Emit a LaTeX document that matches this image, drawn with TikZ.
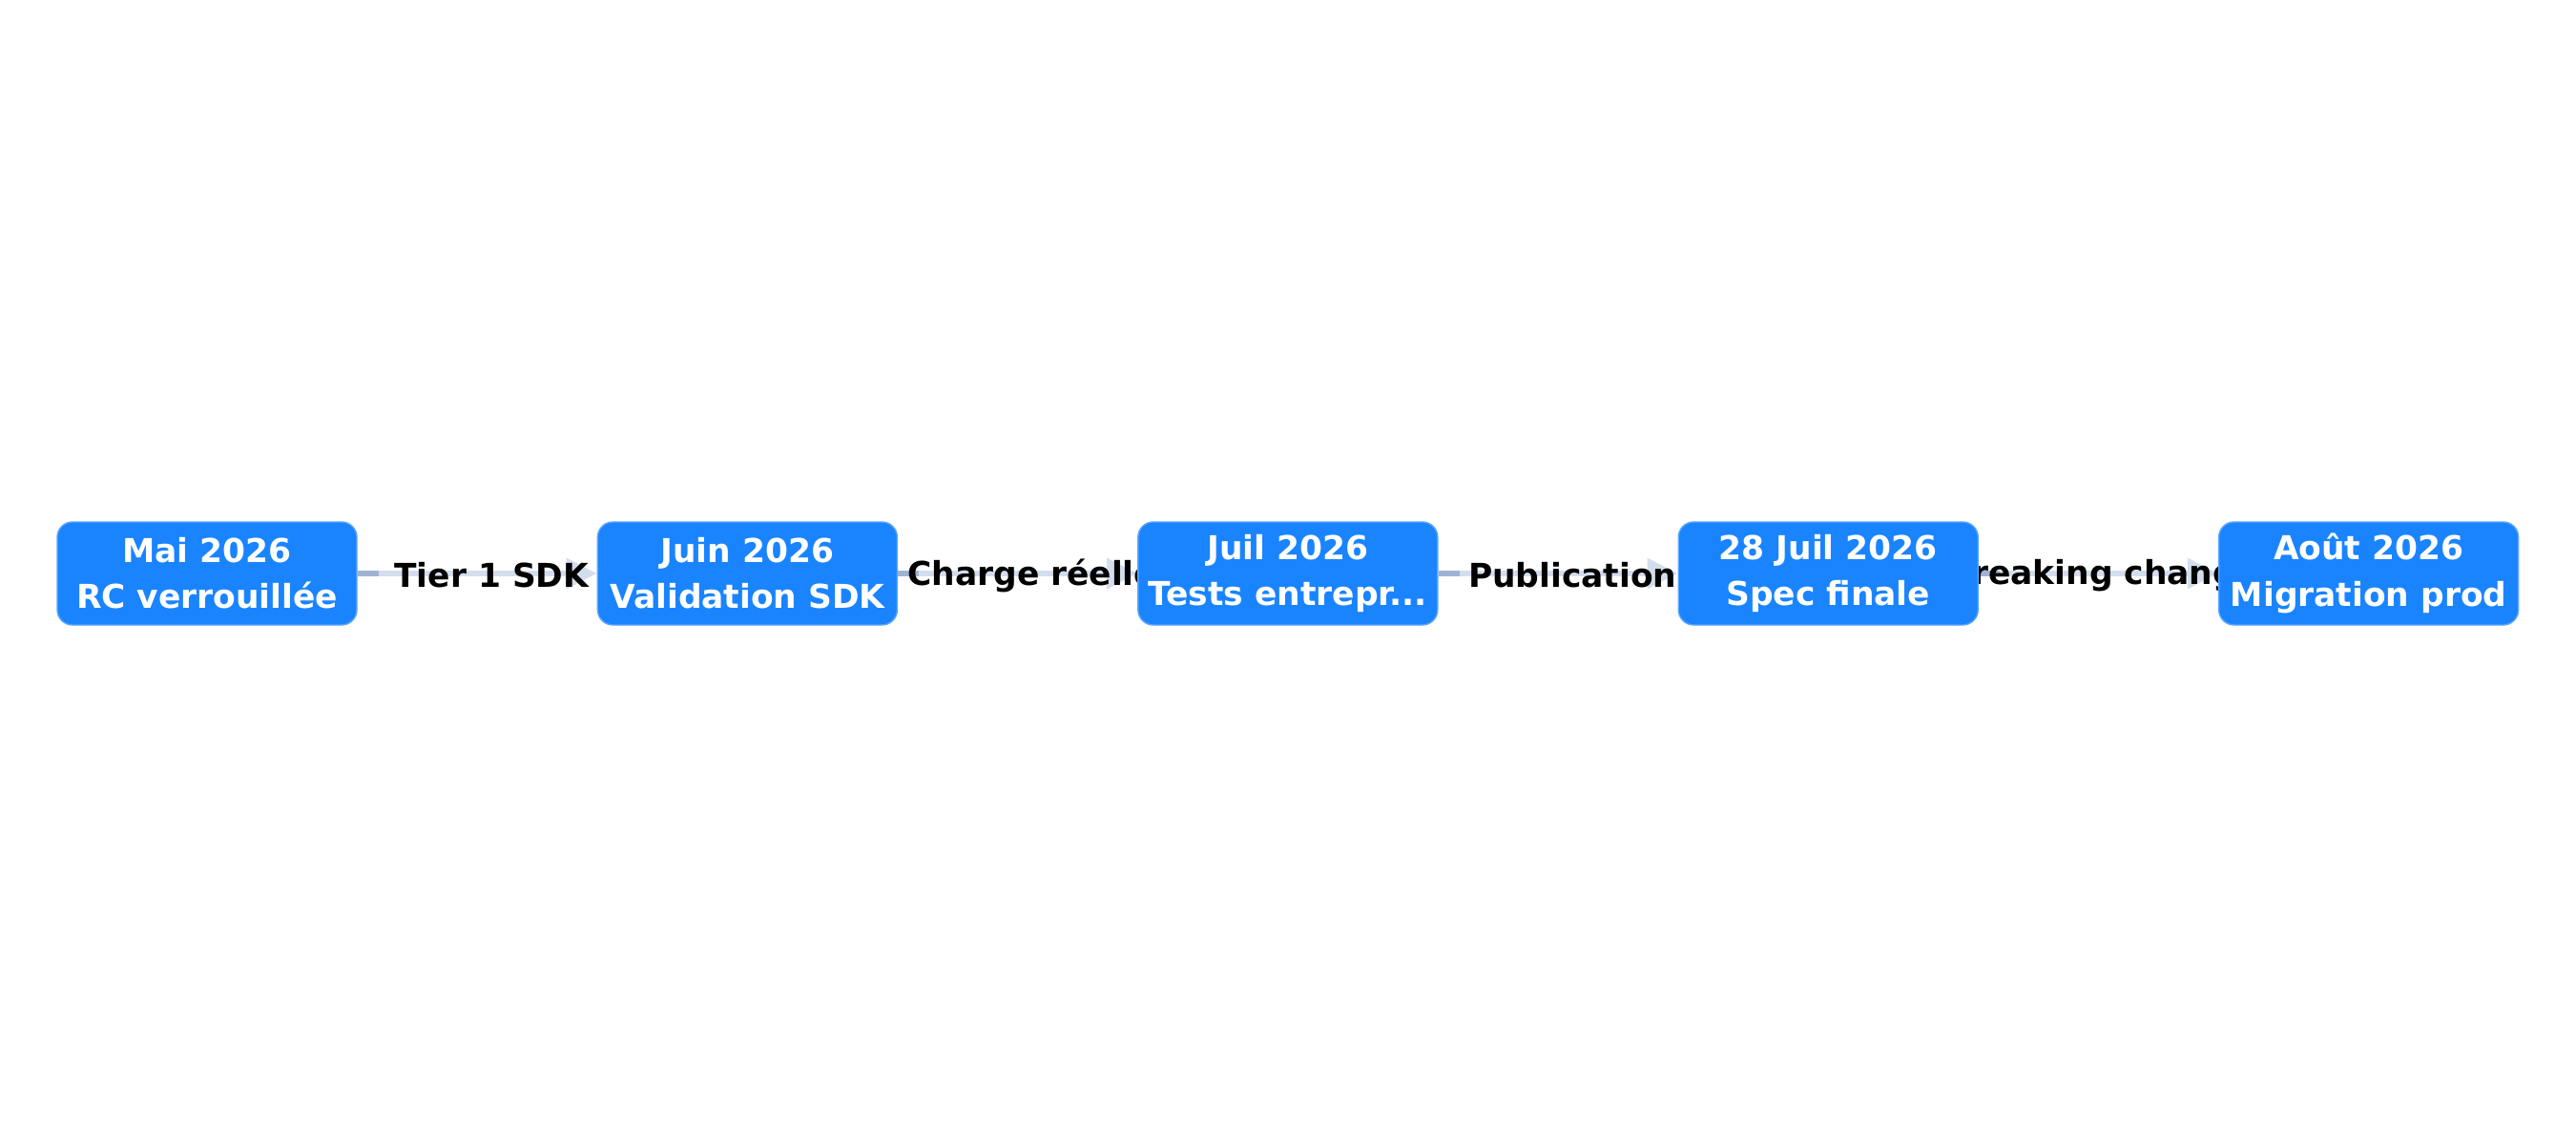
\documentclass[tikz,border=0pt]{standalone}
\usepackage{fontspec}
\setmainfont{DejaVu Sans}
\usepackage{tikz}
\usetikzlibrary{positioning,arrows.meta,backgrounds}

\definecolor{milestone}{RGB}{26,132,255}
\definecolor{milestoneedge}{RGB}{90,165,255}
\definecolor{flow}{RGB}{212,221,237}
\definecolor{flowdark}{RGB}{160,178,210}

\begin{document}
\begin{tikzpicture}[node distance=25.1mm, >={Triangle[length=3.2mm,width=3.1mm]},
    milestonebox/.style={draw=milestoneedge, line width=0.4pt, fill=milestone, rounded corners=1.6mm,
      minimum width=31.4mm, minimum height=10.8mm, inner sep=0pt, align=center,
      text=white, font=\bfseries\fontsize{9.8}{13.7}\selectfont},
    flowline/.style={draw=flow, line width=0.6mm},
    flowstart/.style={draw=flowdark, line width=0.6mm},
    flowlabel/.style={font=\bfseries\fontsize{9.8}{13.1}\selectfont, inner sep=0pt}]
    \useasboundingbox (0,0) rectangle (27,12);
    \node[milestonebox] (mai) at (2.17,5.99) {Mai 2026\\RC verrouillée};
    \node[milestonebox, right=of mai] (juin) {Juin 2026\\Validation SDK};
    \node[milestonebox, right=of juin] (juil) {Juil 2026\\Tests entrepr...};
    \node[milestonebox, right=of juil] (spec) {28 Juil 2026\\Spec finale};
    \node[milestonebox, right=of spec] (aout) {Août 2026\\Migration prod};
    \begin{scope}[on background layer]
      \foreach \a/\b/\txt in {mai/juin/Tier 1 SDK, juin/juil/Charge réelle, juil/spec/Publication, spec/aout/Breaking changes} {
        \draw[flowline, ->] (\a) -- (\b);
        \draw[flowstart] (\a.east) -- ++(2.2mm,0);
        \path (\a) -- node[flowlabel, pos=0.56, yshift=-0.2mm]{\txt} (\b);
      }
    \end{scope}
  \end{tikzpicture}
\end{document}
